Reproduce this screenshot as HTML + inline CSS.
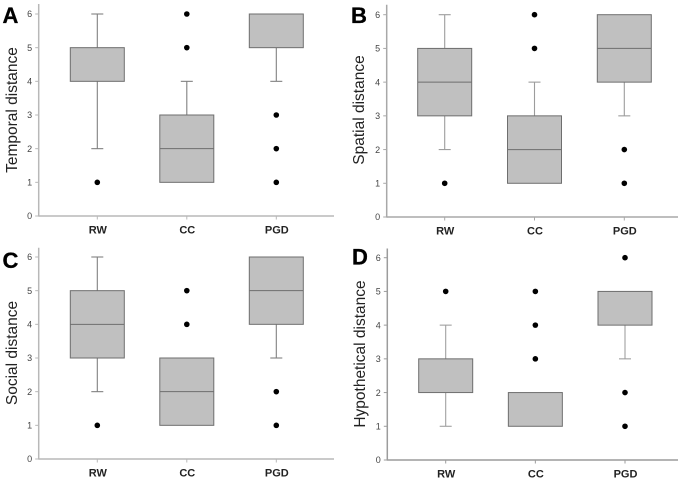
<!DOCTYPE html>
<html lang="en">
<head>
<meta charset="utf-8">
<title>Distance ratings box plots</title>
<style>
html,body{margin:0;padding:0;background:#fff;width:685px;height:486px;overflow:hidden}
svg{display:block;filter:blur(0.35px)}
text{font-family:"Liberation Sans",Arial,sans-serif}
.letter{font-size:22px;font-weight:bold;fill:#000;stroke:#000;stroke-width:0.3px}
.ytitle{font-size:15.5px;fill:#222}
.tick{font-size:9px;fill:#444}
.cat{font-size:11px;font-weight:bold;fill:#222}
</style>
</head>
<body>
<svg id="chart" width="685" height="486" viewBox="0 0 685 486" xmlns="http://www.w3.org/2000/svg">
  <g id="panel-a">
    <text class="letter" x="2.5" y="23">A</text>
    <text class="ytitle" transform="translate(17,110) rotate(-90)" text-anchor="middle">Temporal distance</text>
  </g>
  <g id="panel-b">
    <text class="letter" x="351" y="23">B</text>
    <text class="ytitle" transform="translate(364,110) rotate(-90)" text-anchor="middle">Spatial distance</text>
  </g>
  <g id="panel-c">
    <text class="letter" x="2.5" y="268">C</text>
    <text class="ytitle" transform="translate(17,353) rotate(-90)" text-anchor="middle">Social distance</text>
  </g>
  <g id="panel-d">
    <text class="letter" x="352" y="264.5">D</text>
    <text class="ytitle" transform="translate(365,354) rotate(-90)" text-anchor="middle">Hypothetical distance</text>
  </g>
</svg>
<script>
// Shared axis data
const categories = ["RW", "CC", "PGD"];
const yTicks = [0, 1, 2, 3, 4, 5, 6];

// Panel A: temporal distance (null = not drawn)
const aQ1 = [4, 1, 5];
const aMedian = [null, 2, null];
const aQ3 = [5, 3, 6];
const aWhiskerLow = [2, null, 4];
const aWhiskerHigh = [6, 4, null];
const aOutliers = [[1], [5, 6], [1, 2, 3]];

// Panel B: spatial distance
const bQ1 = [3, 1, 4];
const bMedian = [4, 2, 5];
const bQ3 = [5, 3, 6];
const bWhiskerLow = [2, null, 3];
const bWhiskerHigh = [6, 4, null];
const bOutliers = [[1], [5, 6], [1, 2]];

// Panel C: social distance
const cQ1 = [3, 1, 4];
const cMedian = [4, 2, 5];
const cQ3 = [5, 3, 6];
const cWhiskerLow = [2, null, 3];
const cWhiskerHigh = [6, null, null];
const cOutliers = [[1], [4, 5], [1, 2]];

// Panel D: hypothetical distance
const dQ1 = [2, 1, 4];
const dMedian = [null, null, null];
const dQ3 = [3, 2, 5];
const dWhiskerLow = [1, null, 3];
const dWhiskerHigh = [4, null, null];
const dOutliers = [[5], [3, 4, 5], [1, 2, 6]];

const NS = "http://www.w3.org/2000/svg";
const BOX_STROKE = "#6e6e6e", FILL = "#c0c0c0";

function mk(parent, tag, attrs, text) {
  const el = document.createElementNS(NS, tag);
  for (const k in attrs) el.setAttribute(k, attrs[k]);
  if (text !== undefined) el.textContent = text;
  parent.appendChild(el);
  return el;
}

function drawPanel(cfg) {
  const g = document.getElementById(cfg.id);
  const y = v => cfg.y0 + (cfg.y6 - cfg.y0) * v / 6;
  const x = i => cfg.c0 + (cfg.c2 - cfg.c0) * i / 2;
  const boxHalf = 27, capHalf = 6;

  // axes
  const yAxis = mk(g, "line", {x1: cfg.ax, x2: cfg.ax, y1: cfg.top, y2: cfg.y0 + 0.6, stroke: cfg.axisColor, "stroke-width": 1.5});
  
  
  const xAxis = mk(g, "line", {x1: cfg.ax, x2: cfg.end, y1: cfg.y0, y2: cfg.y0, stroke: cfg.axisColor, "stroke-width": 1.5});
  
  

  // y ticks
  yTicks.forEach(v => {
    const t = mk(g, "line", {x1: cfg.ax - 3.5, x2: cfg.ax, y1: y(v), y2: y(v), stroke: cfg.axisColor, "stroke-width": 1});
    
    
    const l = mk(g, "text", {class: "tick", x: cfg.ax - 6.5, y: y(v) + 3.2, "text-anchor": "end"}, String(v));
    
    
  });

  categories.forEach((name, i) => {
    const cx = x(i);
    const tick = mk(g, "line", {x1: cx, x2: cx, y1: cfg.y0, y2: cfg.y0 + 3.5, stroke: cfg.axisColor, "stroke-width": 1});
    
    
    const lab = mk(g, "text", {class: "cat", x: cx + 0.5, y: cfg.y0 + 17.5, "text-anchor": "middle"}, name);
    
    

    // whiskers
    [[cfg.wl[i], cfg.q1[i]], [cfg.wh[i], cfg.q3[i]]].forEach(pair => {
      if (pair[0] === null) return;
      const w = mk(g, "line", {x1: cx, x2: cx, y1: y(pair[0]), y2: y(pair[1]), stroke: cfg.whiskerColor, "stroke-width": 1.1});
      
      
      const cap = mk(g, "line", {x1: cx - capHalf, x2: cx + capHalf, y1: y(pair[0]), y2: y(pair[0]), stroke: cfg.whiskerColor, "stroke-width": 1.1});
      
      
    });

    // box
    const box = mk(g, "rect", {x: cx - boxHalf, y: y(cfg.q3[i]), width: boxHalf * 2, height: y(cfg.q1[i]) - y(cfg.q3[i]), fill: FILL, stroke: BOX_STROKE, "stroke-width": 1});
    
    

    // median
    if (cfg.med[i] !== null) {
      const m = mk(g, "line", {x1: cx - boxHalf, x2: cx + boxHalf, y1: y(cfg.med[i]), y2: y(cfg.med[i]), stroke: BOX_STROKE, "stroke-width": 1});
      
      
    }

    // outliers
    cfg.out[i].forEach(v => {
      const p = mk(g, "circle", {cx: cx, cy: y(v), r: 2.8, fill: "#000"});
      
      
    });
  });
}

drawPanel({id: "panel-a", ax: 38.7, end: 334, top: 4, y0: 216, y6: 14, c0: 97.3, c2: 276.3, axisColor: "#b8b8b8", whiskerColor: "#808080",
  q1: aQ1, med: aMedian, q3: aQ3, wl: aWhiskerLow, wh: aWhiskerHigh, out: aOutliers});
drawPanel({id: "panel-b", ax: 386.7, end: 678, top: 4.7, y0: 217, y6: 14.7, c0: 444.7, c2: 624.3, axisColor: "#a8a8a8", whiskerColor: "#9c9c9c",
  q1: bQ1, med: bMedian, q3: bQ3, wl: bWhiskerLow, wh: bWhiskerHigh, out: bOutliers});
drawPanel({id: "panel-c", ax: 38.7, end: 334, top: 247.7, y0: 459, y6: 257, c0: 97.3, c2: 276.3, axisColor: "#b8b8b8", whiskerColor: "#808080",
  q1: cQ1, med: cMedian, q3: cQ3, wl: cWhiskerLow, wh: cWhiskerHigh, out: cOutliers});
drawPanel({id: "panel-d", ax: 387.3, end: 678, top: 248.5, y0: 460, y6: 257.7, c0: 445.7, c2: 625, axisColor: "#9c9c9c", whiskerColor: "#a0a0a0",
  q1: dQ1, med: dMedian, q3: dQ3, wl: dWhiskerLow, wh: dWhiskerHigh, out: dOutliers});
</script>
</body>
</html>
